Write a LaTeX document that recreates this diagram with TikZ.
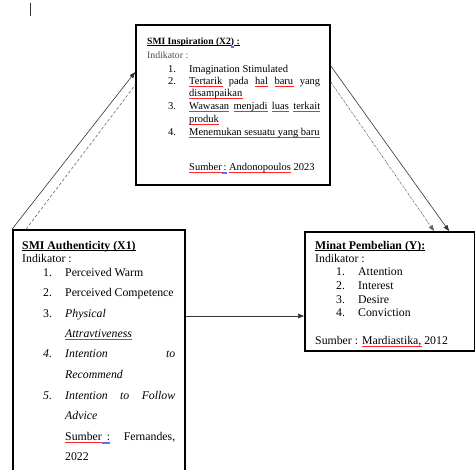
\documentclass[tikz,border=0pt]{standalone}
\usepackage{fontspec}
\setmainfont{Liberation Serif}
\usetikzlibrary{arrows.meta}
\newsavebox\splbox
\newcommand\spl[1]{\sbox\splbox{#1}\rlap{\textcolor{red!85}{\hbox to \wd\splbox{\xleaders\hbox{\rule[-2.2pt]{.7pt}{.3pt}\rule[-2.7pt]{.7pt}{.3pt}}\hfill}}}\usebox\splbox}
\newcommand\blu[1]{\sbox\splbox{#1}\rlap{\textcolor{blue!60}{\rlap{\rule[-2pt]{\wd\splbox}{.35pt}}\rule[-3.1pt]{\wd\splbox}{.35pt}}}\usebox\splbox}
\newcommand\uln[1]{\sbox\splbox{#1}\rlap{\rule[-1.7pt]{\wd\splbox}{.6pt}}\usebox\splbox}
\newcommand\fa{\fontsize{11.8}{14}\selectfont}
\newcommand\fb{\fontsize{10.5}{12}\selectfont}
\tikzset{
  box/.style={draw,line width=1.8pt,inner sep=0pt},
  lbl/.style={anchor=west,inner sep=0pt,text height=1.5ex,text depth=.25ex,yshift=-1.2pt},
  arr/.style={-{Triangle[length=6pt,width=4.5pt]},line width=.6pt,black!80}
}
\begin{document}
\begin{tikzpicture}[x=1pt,y=-1pt]
			\useasboundingbox (0,0) rectangle (475,470);
			\clip (0,0) rectangle (475,470);
			\draw [black!80,line width=.6pt] (30,3) -- (30,16);
			% boxes
			\node [box,minimum width=194pt,minimum height=160pt] (insp) at (233,105) {};
			\node [box,minimum width=172pt,minimum height=260pt] (auth) at (99,360) {};
			\node [box,minimum width=170pt,minimum height=119pt] (minat) at (390,291.5) {};
			% SMI Inspiration
			\node [lbl,font=\fontsize{9.6}{11}\selectfont\bfseries] (ih) at (147,40) {\uln{SMI Inspiration (X2}\blu{)}\uln{\ :}};
			\node [lbl,font=\fontsize{9.8}{11}\selectfont,black!70] (ik) at (147,54) {Indikator :};
			\node [lbl,font=\fb] (i1n) at (168,68) {1.};
			\node [lbl,font=\fb] (i1) at (189,68) {Imagination Stimulated};
			\node [lbl,font=\fb] (i2n) at (168,80) {2.};
			\node [lbl,font=\fb] (i2) at (189,80) {\hbox to 131pt{\spl{Tertarik}\hfill pada\hfill\spl{hal}\hfill\spl{baru}\hfill yang}};
			\node [lbl,font=\fb] (i2b) at (189,92) {\spl{disampaikan}};
			\node [lbl,font=\fb] (i3n) at (168,105) {3.};
			\node [lbl,font=\fb] (i3) at (189,105) {\hbox to 131pt{\spl{Wawasan}\hfill\spl{menjadi}\hfill\spl{luas}\hfill\spl{terkait}}};
			\node [lbl,font=\fb] (i3b) at (189,118) {\spl{produk}};
			\node [lbl,font=\fb] (i4n) at (168,131) {4.};
			\node [lbl,font=\fb] (i4) at (189,131) {\spl{Menemukan sesuatu yang baru}};
			\node [lbl,font=\fb] (isrc) at (189,166) {\spl{Sumber}\blu{\,:} \spl{Andonopoulos} 2023};
			% SMI Authenticity
			\node [lbl,font=\fa\bfseries] (ah) at (22,245) {\uln{SMI Authenticity (X1)}};
			\node [lbl,font=\fa] (ak) at (22,258) {Indikator :};
			\node [lbl,font=\fa] (a1n) at (43,272) {1.};
			\node [lbl,font=\fa] (a1) at (65,272) {Perceived Warm};
			\node [lbl,font=\fa] (a2n) at (43,292) {2.};
			\node [lbl,font=\fa] (a2) at (65,292) {Perceived Competence};
			\node [lbl,font=\fa] (a3n) at (43,313) {3.};
			\node [lbl,font=\fa\itshape] (a3) at (65,313) {Physical};
			\node [lbl,font=\fa\itshape] (a3b) at (65,333) {\spl{Attravtiveness}};
			\node [lbl,font=\fa\itshape] (a4n) at (43,353) {4.};
			\node [lbl,font=\fa\itshape] (a4) at (65,353) {\hbox to 110pt{Intention\hfill to}};
			\node [lbl,font=\fa\itshape] (a4b) at (65,374) {Recommend};
			\node [lbl,font=\fa\itshape] (a5n) at (43,395) {5.};
			\node [lbl,font=\fa\itshape] (a5) at (65,395) {\hbox to 110pt{Intention\hfill to\hfill Follow}};
			\node [lbl,font=\fa\itshape] (a5b) at (65,415) {Advice};
			\node [lbl,font=\fa] (asrc) at (65,436) {\hbox to 110pt{\spl{Sumber}\blu{\ \,:}\hfill Fernandes,}};
			\node [lbl,font=\fa] (asrcb) at (65,456) {2022};
			% Minat Pembelian
			\node [lbl,font=\fa\bfseries] (mh) at (315,245) {\uln{Minat Pembelian (Y):}};
			\node [lbl,font=\fa] (mk) at (315,258) {Indikator :};
			\node [lbl,font=\fa] (m1n) at (336,271) {1.};
			\node [lbl,font=\fa] (m1) at (358,271) {Attention};
			\node [lbl,font=\fa] (m2n) at (336,285) {2.};
			\node [lbl,font=\fa] (m2) at (358,285) {Interest};
			\node [lbl,font=\fa] (m3n) at (336,299) {3.};
			\node [lbl,font=\fa] (m3) at (358,299) {Desire};
			\node [lbl,font=\fa] (m4n) at (336,312) {4.};
			\node [lbl,font=\fa] (m4) at (358,312) {Conviction};
			\node [lbl,font=\fa] (msrc) at (315,340) {Sumber : \spl{Mardiastika,} 2012};
			% arrows
			\draw [arr] (auth.north west) -- ([yshift=-48pt]insp.north west);
			\draw [black!60,line width=.6pt,dash pattern=on 3pt off 2pt] ([xshift=14pt]auth.north west) -- ([yshift=-61pt]insp.north west);
			\draw [arr] ([yshift=-42pt]insp.north east) -- ([xshift=145pt]minat.north west);
			\draw [arr,black!60,dash pattern=on 2pt off 1pt on .5pt off 1pt] ([yshift=-58pt]insp.north east) -- ([xshift=130pt]minat.north west);
			\draw [arr] ([yshift=44pt]auth.east) -- ([yshift=44pt]auth.east -| minat.west);
		\end{tikzpicture}
\end{document}
